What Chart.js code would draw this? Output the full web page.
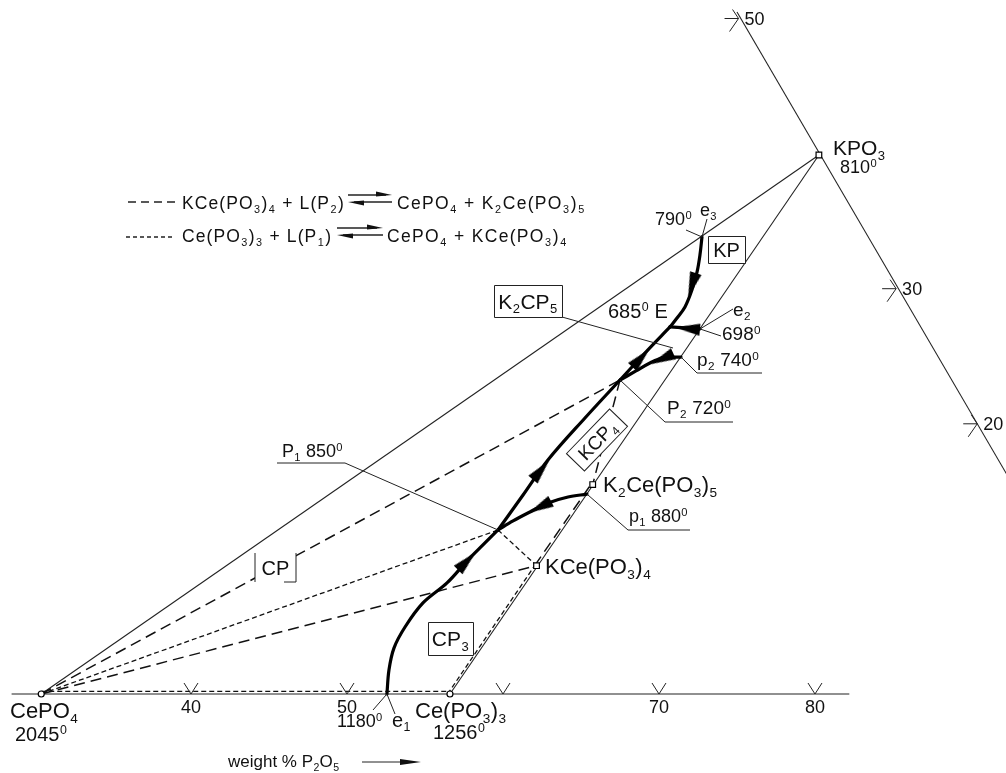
<!DOCTYPE html>
<html>
<head>
<meta charset="utf-8">
<title>CePO4 – Ce(PO3)3 – KPO3</title>
<script src="https://cdn.jsdelivr.net/npm/chart.js@4.4.1/dist/chart.umd.min.js"></script>
<style>
  html, body { margin: 0; padding: 0; background: #ffffff; overflow: hidden; }
  canvas { display: block; }
</style>
</head>
<body>
<canvas id="diagram" width="1006" height="773"></canvas>
<script>
// All compositions are weight % [P2O5, K2O]; Ce2O3 is the balance.

// Compounds
const compoundLabels = ['CePO_4', 'Ce(PO_3)_3', 'KCe(PO_3)_4', 'K_2Ce(PO_3)_5', 'KPO_3'];
const compoundComp   = [[30.4, 0], [56.6, 0], [57.4, 9.5], [58.0, 15.5], [60.3, 39.9]];
const compoundMelt   = [2045, 1256, null, null, 810];

// Invariant points
const pointNames = ['e1', 'P1', 'p1', 'P2', 'p2', 'E', 'e2', 'e3'];
const pointTemps = [1180, 850, 880, 720, 740, 685, 698, 790];
const pointComp  = [[52.56, 0], [53.61, 12.14], [57.98, 14.80], [55.88, 23.24],
                    [58.94, 24.94], [57.12, 27.17], [59.12, 27.02], [55.84, 33.83]];

// Axis ticks
const p2o5Ticks      = [40, 50, 60, 70, 80];
const p2o5TickLabels = ['40', '50', '', '70', '80'];
const k2oTicks       = [50, 30, 20];
const k2oTickP2O5    = [50.1, 70.2, 80.4];

// Sides of the triangle that are drawn
const baseSide = [[28.5, 0], [82.2, 0]];
const k2oSide  = [[49.76, 50.48], [85.33, 15.10]];

// Univariant curves (bold), in the direction of falling temperature
const curveE1P1 = [[52.56, 0], [51.80, 1.78], [51.31, 3.40], [51.24, 4.96], [51.50, 6.74],
                   [52.30, 8.22], [52.77, 9.84], [53.20, 11.03], [53.61, 12.14]];
const curveP1P2 = [[53.61, 12.14], [53.92, 14.73], [54.22, 17.32], [55.04, 20.43], [55.88, 23.24]];
const curvep1P1 = [[57.98, 14.80], [56.88, 14.58], [55.82, 14.14], [54.99, 13.47], [54.24, 12.81], [53.61, 12.14]];
const curveP2E  = [[55.88, 23.24], [56.48, 25.24], [57.12, 27.17]];
const curvep2P2 = [[58.94, 24.94], [57.76, 24.87], [57.17, 24.50], [56.57, 23.91], [55.88, 23.24]];
const curvee2E  = [[59.12, 27.02], [57.12, 27.17]];
const curvee3E  = [[55.84, 33.83], [56.38, 32.49], [56.82, 31.24], [57.16, 29.90], [57.34, 28.65], [57.24, 27.83], [57.12, 27.17]];

// Arrowheads on the curves: position and the point they head for
const flowArrows = [
  { at: [52.77, 9.84],  to: [53.20, 11.03] },
  { at: [54.15, 16.58], to: [55.04, 20.43] },
  { at: [55.45, 13.84], to: [54.24, 12.81] },
  { at: [56.41, 24.87], to: [57.12, 27.17] },
  { at: [57.80, 24.80], to: [56.57, 23.91] },
  { at: [58.30, 27.05], to: [57.12, 27.17] },
  { at: [56.98, 30.27], to: [57.34, 28.65] }
];

// Tie lines of the P1 reaction (short dashes)
const p1Ties = [
  [[30.3, 0.2], [56.5, 0.2]],
  [[30.4, 0], [53.61, 12.14]],
  [[53.61, 12.14], [57.4, 9.5]],
  [[56.45, 0], [57.28, 9.5]]
];
// Tie lines of the P2 reaction (long dashes)
const p2Ties = [
  [[30.4, 0], [55.88, 23.24]],
  [[55.88, 23.24], [58.0, 15.5]],
  [[30.4, 0], [57.4, 9.5]],
  [[57.28, 9.5], [57.88, 15.5]]
];

// ternary -> cartesian (equilateral triangle, P2O5 along the base)
const H = Math.sqrt(3) / 2;
const toXY = ([p, k]) => ({ x: p + k / 2, y: k * H });
const pt = name => pointComp[pointNames.indexOf(name)];

const FONT = '"Liberation Sans", Arial, Helvetica, sans-serif';
const INK = '#111111';

function richParts(str) {
  const parts = [];
  for (let i = 0; i < str.length; i++) {
    const c = str[i];
    if ((c === '_' || c === '^') && i + 1 < str.length) {
      parts.push({ t: str[i + 1], m: c });
      i++;
    } else if (parts.length && parts[parts.length - 1].m === '') {
      parts[parts.length - 1].t += c;
    } else {
      parts.push({ t: c, m: '' });
    }
  }
  return parts;
}

// text with sub-/superscripts; track = extra spacing per character
function drawRich(ctx, str, x, y, size, align, track) {
  track = track || 0;
  const parts = richParts(str);
  let w = 0;
  parts.forEach(p => {
    const fs = p.m ? size * 0.62 : size;
    ctx.font = fs + 'px ' + FONT;
    p.w = ctx.measureText(p.t).width + (p.m ? size * 0.04 : 0) + track * p.t.length;
    w += p.w;
  });
  let cx = align === 'center' ? x - w / 2 : x;
  ctx.textAlign = 'left';
  ctx.textBaseline = 'alphabetic';
  parts.forEach(p => {
    const fs = p.m ? size * 0.62 : size;
    ctx.font = fs + 'px ' + FONT;
    const dy = p.m === '_' ? size * 0.22 : (p.m === '^' ? -size * 0.34 : 0);
    if (track) {
      let ax = cx + (p.m ? size * 0.02 : 0);
      for (const ch of p.t) {
        ctx.fillText(ch, ax, y + dy);
        ax += ctx.measureText(ch).width + track;
      }
    } else {
      ctx.fillText(p.t, cx + (p.m ? size * 0.02 : 0), y + dy);
    }
    cx += p.w;
  });
  return w;
}

function makeArrowHead(len, wid) {
  const c = document.createElement('canvas');
  c.width = len; c.height = wid;
  const g = c.getContext('2d');
  g.fillStyle = '#000';
  g.beginPath();
  g.moveTo(0, 0); g.lineTo(len, wid / 2); g.lineTo(0, wid);
  g.closePath(); g.fill();
  return c;
}
const arrowHead = makeArrowHead(25, 12);

// text labels: [text, left x, baseline y, font size]
const labels = [
  ['CePO_4', 10, 718, 22],
  ['2045^0', 15, 741, 20],
  ['1180^0', 337, 727, 18],
  ['e_1', 392, 727, 20],
  ['Ce(PO_3)_3', 415, 718, 22],
  ['1256^0', 433, 739, 20],
  ['weight % P_2O_5', 228, 767, 17],
  ['KPO_3', 833, 155, 21],
  ['810^0', 840, 173, 18],
  ['790^0', 655, 225, 18],
  ['e_3', 700, 216, 18],
  ['685^0 E', 608, 318, 20],
  ['e_2', 733, 316, 19],
  ['698^0', 722, 340, 19],
  ['p_2 740^0', 697, 366, 19],
  ['P_2 720^0', 667, 414, 19],
  ['K_2Ce(PO_3)_5', 603, 492, 22],
  ['p_1 880^0', 629, 522, 18],
  ['KCe(PO_3)_4', 545, 574, 22],
  ['P_1 850^0', 282, 457, 18]
];

// leader lines from an invariant point to its label
const leaders = [
  ['e1', [[373, 710]]],
  ['e1', [[395, 714]]],
  ['e3', [[707, 219]]],
  ['e3', [[686, 230]]],
  ['e2', [[733, 309]]],
  ['e2', [[721, 336]]],
  ['p2', [[697, 373], [762, 373]]],
  ['P2', [[665, 422], [733, 422]]],
  ['p1', [[628, 530], [690, 530]]],
  ['P1', [[345, 463], [277, 463]]]
];

// primary-phase field names
const fieldBoxes = [
  { t: 'KP', x: 708, y: 236, w: 37, h: 27, size: 20 },
  { t: 'K_2CP_5', x: 494, y: 285, w: 68, h: 32, size: 21 },
  { t: 'CP', x: 255, y: 553, w: 41, h: 29, size: 20, open: true },
  { t: 'CP_3', x: 428, y: 622, w: 45, h: 33, size: 21 }
];

const annotate = {
  id: 'annotate',
  afterDatasetsDraw(chart) {
    const ctx = chart.ctx;
    const sx = chart.scales.x, sy = chart.scales.y;
    const pix = c => { const q = toXY(c); return [sx.getPixelForValue(q.x), sy.getPixelForValue(q.y)]; };
    ctx.save();
    ctx.strokeStyle = '#222';
    ctx.fillStyle = INK;
    ctx.lineWidth = 1;
    ctx.lineCap = 'butt';

    // P2O5 scale along the base
    p2o5Ticks.forEach((v, i) => {
      const [x, y] = pix([v, 0]);
      ctx.beginPath();
      ctx.moveTo(x - 7, y - 11); ctx.lineTo(x, y); ctx.lineTo(x + 7, y - 11);
      ctx.stroke();
      if (p2o5TickLabels[i]) drawRich(ctx, p2o5TickLabels[i], x, y + 19, 18, 'center');
    });
    // K2O scale on the right-hand side
    k2oTicks.forEach((v, i) => {
      const [x, y] = pix([k2oTickP2O5[i], v]);
      ctx.beginPath();
      ctx.moveTo(x - 14, y); ctx.lineTo(x, y);
      ctx.moveTo(x - 6, y - 9); ctx.lineTo(x, y); ctx.lineTo(x - 9, y + 13);
      ctx.stroke();
      drawRich(ctx, String(v), x + 6, y + 6, 18, 'left');
    });

    // leaders
    leaders.forEach(([name, path]) => {
      const [x0, y0] = pix(pt(name));
      ctx.beginPath();
      ctx.moveTo(x0, y0);
      path.forEach(([x, y]) => ctx.lineTo(x, y));
      ctx.stroke();
    });
    ctx.beginPath(); ctx.moveTo(562, 317); ctx.lineTo(673, 348); ctx.stroke();

    // field boxes
    fieldBoxes.forEach(b => {
      ctx.fillStyle = '#fff';
      ctx.fillRect(b.x, b.y, b.w, b.h);
      ctx.beginPath();
      if (b.open) {
        ctx.moveTo(b.x, b.y); ctx.lineTo(b.x, b.y + b.h);
        ctx.moveTo(b.x + b.w - 12, b.y + b.h); ctx.lineTo(b.x + b.w, b.y + b.h); ctx.lineTo(b.x + b.w, b.y);
      } else {
        ctx.rect(b.x + 0.5, b.y + 0.5, b.w, b.h);
      }
      ctx.stroke();
      ctx.fillStyle = INK;
      drawRich(ctx, b.t, b.x + b.w / 2, b.y + b.h / 2 + b.size * 0.36, b.size, 'center');
    });
    // tilted box of KCe(PO3)4 field
    ctx.save();
    ctx.translate(597, 440);
    ctx.rotate(-46 * Math.PI / 180);
    ctx.fillStyle = '#fff';
    ctx.fillRect(-31, -12.5, 62, 25);
    ctx.strokeRect(-31, -12.5, 62, 25);
    ctx.fillStyle = INK;
    drawRich(ctx, 'KCP_4', 0, 7, 19, 'center');
    ctx.restore();

    // text labels
    ctx.fillStyle = INK;
    labels.forEach(([t, x, y, s]) => drawRich(ctx, t, x, y, s, 'left'));

    // axis arrow
    ctx.beginPath(); ctx.moveTo(362, 762); ctx.lineTo(404, 762); ctx.stroke();
    ctx.beginPath(); ctx.moveTo(421, 762); ctx.lineTo(400, 759); ctx.lineTo(400, 765); ctx.closePath(); ctx.fill();

    // reaction key
    const harpoons = (x1, x2, yTop, yBot) => {
      ctx.lineWidth = 1.3;
      ctx.beginPath(); ctx.moveTo(x1, yTop); ctx.lineTo(x2 - 6, yTop); ctx.stroke();
      ctx.beginPath(); ctx.moveTo(x2, yTop); ctx.lineTo(x2 - 16, yTop - 3.5); ctx.lineTo(x2 - 16, yTop + 1.5); ctx.closePath(); ctx.fill();
      ctx.beginPath(); ctx.moveTo(x1 + 6, yBot); ctx.lineTo(x2, yBot); ctx.stroke();
      ctx.beginPath(); ctx.moveTo(x1, yBot); ctx.lineTo(x1 + 16, yBot - 1.5); ctx.lineTo(x1 + 16, yBot + 3.5); ctx.closePath(); ctx.fill();
      ctx.lineWidth = 1;
    };
    ctx.lineWidth = 1.3;
    ctx.setLineDash([8, 5]);
    ctx.beginPath(); ctx.moveTo(128, 202); ctx.lineTo(175, 202); ctx.stroke();
    ctx.setLineDash([4, 3]);
    ctx.beginPath(); ctx.moveTo(126, 237); ctx.lineTo(173, 237); ctx.stroke();
    ctx.setLineDash([]);
    ctx.lineWidth = 1;
    drawRich(ctx, 'KCe(PO_3)_4 + L(P_2)', 182, 209, 17.5, 'left', 1.1);
    harpoons(348, 392, 195, 202);
    drawRich(ctx, 'CePO_4 + K_2Ce(PO_3)_5', 397, 209, 17.5, 'left', 1.3);
    drawRich(ctx, 'Ce(PO_3)_3 + L(P_1)', 182, 242, 17.5, 'left', 1.1);
    harpoons(337, 383, 228, 235);
    drawRich(ctx, 'CePO_4 + KCe(PO_3)_4', 387, 242, 17.5, 'left', 1.3);

    ctx.restore();
  }
};

const seg = (pts, extra) => Object.assign({
  data: pts.map(toXY),
  showLine: true,
  pointRadius: 0,
  borderColor: '#222',
  borderWidth: 1.1,
  fill: false
}, extra);

const datasets = [];
// triangle sides and joins
datasets.push(seg(baseSide, { order: 6 }));
datasets.push(seg(k2oSide, { order: 6 }));
datasets.push(seg([compoundComp[0], compoundComp[4]], { order: 6 }));
datasets.push(seg([compoundComp[1], compoundComp[4]], { order: 6 }));
// reaction tie lines
p1Ties.forEach(l => datasets.push(seg(l, { order: 5, borderDash: [5, 3], borderWidth: 1.3, borderColor: '#111' })));
p2Ties.forEach(l => datasets.push(seg(l, { order: 5, borderDash: [11, 6], borderWidth: 1.5, borderColor: '#111' })));
// univariant curves
[curveE1P1, curveP1P2, curvep1P1, curveP2E, curvep2P2, curvee2E, curvee3E].forEach(c =>
  datasets.push(seg(c, { order: 4, borderWidth: 3.2, borderColor: '#000', tension: 0.35, borderCapStyle: 'round', borderJoinStyle: 'round' })));
// arrowheads
datasets.push({
  order: 3,
  data: flowArrows.map(a => toXY(a.at)),
  showLine: false,
  pointStyle: arrowHead,
  pointRadius: 12,
  pointRotation: ctx => {
    if (ctx.dataIndex === undefined) return 0;
    const a = flowArrows[ctx.dataIndex];
    const sx = ctx.chart.scales.x, sy = ctx.chart.scales.y;
    const p = toXY(a.at), q = toXY(a.to);
    const dx = sx.getPixelForValue(q.x) - sx.getPixelForValue(p.x);
    const dy = sy.getPixelForValue(q.y) - sy.getPixelForValue(p.y);
    return Math.atan2(dy, dx) * 180 / Math.PI;
  }
});
// compound points
datasets.push({
  order: 2,
  data: compoundComp.map(toXY),
  showLine: false,
  pointStyle: ['circle', 'circle', 'rect', 'rect', 'rect'],
  pointRadius: [3, 3, 4, 4, 4],
  pointBackgroundColor: '#fff',
  pointBorderColor: '#000',
  pointBorderWidth: 1.2
});

new Chart(document.getElementById('diagram'), {
  type: 'scatter',
  data: { datasets },
  options: {
    responsive: false,
    animation: false,
    events: [],
    layout: { padding: 0, autoPadding: false },
    plugins: { legend: { display: false }, tooltip: { enabled: false } },
    scales: {
      x: { type: 'linear', display: false, bounds: 'data', min: 27.7564, max: 92.2436 },
      y: { type: 'linear', display: false, bounds: 'data', min: -5.0641, max: 44.4872 }
    }
  },
  plugins: [annotate]
});
</script>
</body>
</html>
